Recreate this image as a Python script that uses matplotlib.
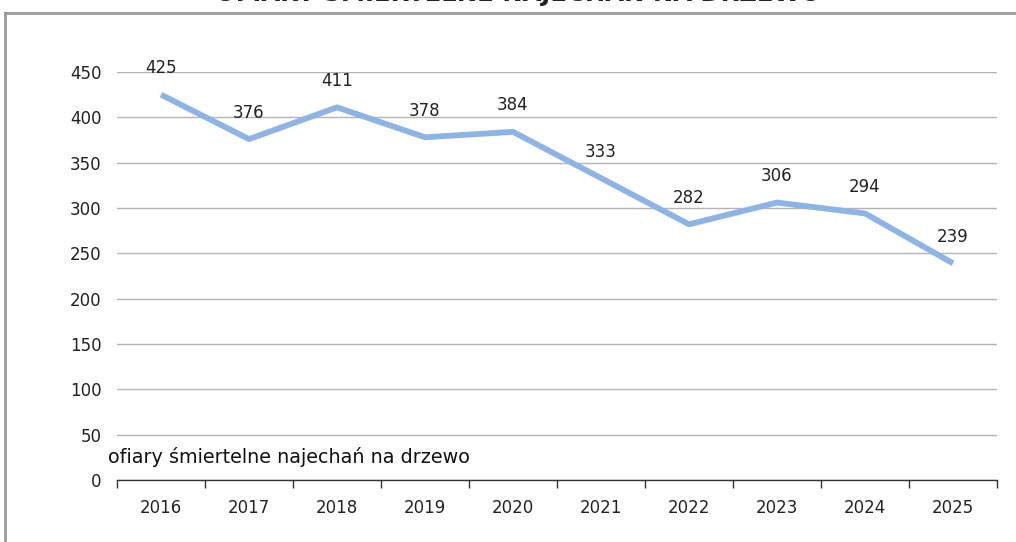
import matplotlib

matplotlib.use("Agg")
import matplotlib.pyplot as plt  # noqa: E402
import numpy as np  # noqa: E402
from matplotlib.lines import Line2D  # noqa: E402

years = ["2016", "2017", "2018", "2019", "2020",
         "2021", "2022", "2023", "2024", "2025"]
victims = [425, 376, 411, 378, 384, 333, 282, 306, 294, 239]
y_ticks = [0, 50, 100, 150, 200, 250, 300, 350, 400, 450]

title = "OFIARY ŚMIERTELNE NAJECHAŃ NA DRZEWO"
series_label = "ofiary śmiertelne najechań na drzewo"

plt.rcParams["font.family"] = ["DejaVu Sans"]

fig = plt.figure(figsize=(10.16, 5.42), dpi=100)
ax = fig.add_axes([117 / 1016, 1 - 480 / 542, 880 / 1016, 408 / 542])

x = np.arange(len(years))
ax.plot(x, victims, color="#8EB4E3", linewidth=4.2, solid_capstyle="butt",
        zorder=3)
for xi, v in zip(x, victims):
    ax.annotate(str(v), (xi, v), xytext=(0, 19), textcoords="offset points",
                ha="center", va="center", fontsize=12, color="#222222")

ax.set_xlim(-0.5, len(years) - 0.5)
ax.set_ylim(0, 450)
ax.set_yticks(y_ticks)
ax.yaxis.grid(True, color="#B3B3B3", linewidth=1.0)
ax.set_axisbelow(True)
for side in ("left", "right", "top"):
    ax.spines[side].set_visible(False)
ax.spines["bottom"].set_color("#333333")
ax.spines["bottom"].set_linewidth(1.0)
ax.tick_params(axis="y", length=0, pad=11, labelsize=12, labelcolor="#222222")

# category labels centred, ticks between the categories
ax.set_xticks(x)
ax.set_xticklabels(years)
ax.tick_params(axis="x", which="major", length=0, pad=14, labelsize=12,
               labelcolor="#222222")
ax.set_xticks(np.arange(-0.5, len(years)), minor=True)
ax.tick_params(axis="x", which="minor", length=6, width=1.0,
               color="#333333", direction="out")

ax.text(-0.6, 25, series_label, fontsize=13.8, color="#111111",
        ha="left", va="center")

# chart frame, cut off at the top and right of the image
fig.add_artist(Line2D([5 / 1016, 5 / 1016], [0, 1 - 13 / 542],
                      transform=fig.transFigure, color="#9A9A9A", linewidth=2))
fig.add_artist(Line2D([5 / 1016, 1.0], [1 - 13 / 542, 1 - 13 / 542],
                      transform=fig.transFigure, color="#9A9A9A", linewidth=2))
# title sits mostly above the image edge, as in the reference
fig.text(518 / 1016, 1 - 1 / 542, title, ha="center", va="baseline",
         fontsize=17.5, fontweight="bold", color="#222222")

fig.savefig("out.png", dpi=100)
plt.close(fig)
